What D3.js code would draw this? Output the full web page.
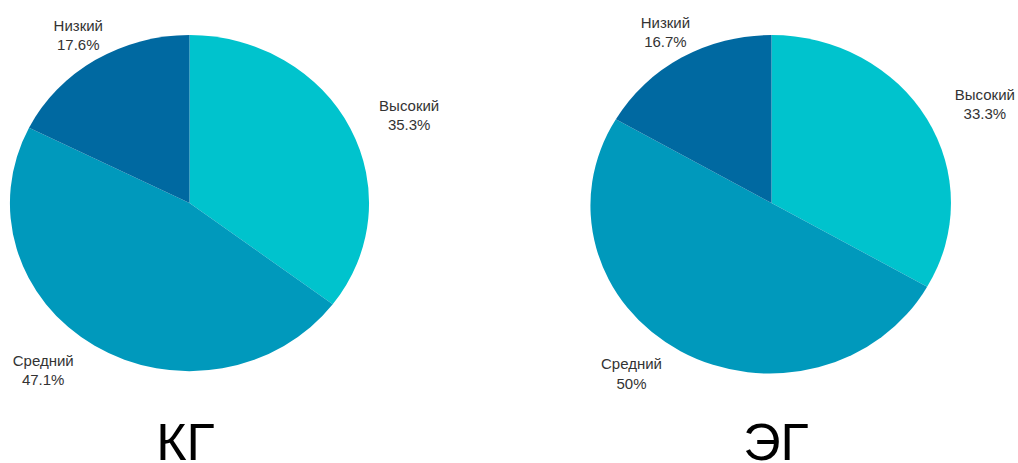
<!DOCTYPE html>
<html>
<head>
<meta charset="utf-8">
<script src="https://cdn.jsdelivr.net/npm/d3@7"></script>
<style>
  html, body { margin: 0; padding: 0; background: #fff; }
  svg { display: block; }
</style>
</head>
<body>
<svg id="chart" width="1018" height="463"></svg>
<script>
// Уровни и их доли (%) по группам
const levels = ["Высокий", "Средний", "Низкий"];
const groups = ["КГ", "ЭГ"];
const valuesKG = [35.3, 47.1, 17.6];
const valuesEG = [33.3, 50, 16.7];
const labelsKG = ["35.3%", "47.1%", "17.6%"];
const labelsEG = ["33.3%", "50%", "16.7%"];
const colors = ["#00C3CD", "#0099BC", "#0069A1"];

const svg = d3.select("#chart");

const color = d3.scaleOrdinal().domain(levels).range(colors);
// horizontal placement of the two pies and their titles
const xPos = d3.scalePoint().domain(groups).range([189.5, 771.5]);
const xTitle = d3.scalePoint().domain(groups).range([185.5, 776]);

const rx = 179.5, ry = 168, cy = 203;
const pie = d3.pie().sort(null).value(d => d.value);
const arc = d3.arc().innerRadius(0).outerRadius(1);
const FONT = "Liberation Sans, Arial, sans-serif";

const series = [
  { name: groups[0], values: valuesKG, labels: labelsKG },
  { name: groups[1], values: valuesEG, labels: labelsEG }
];

series.forEach(s => {
  const cx = xPos(s.name);
  const data = levels.map((l, i) => ({ level: l, value: s.values[i], label: s.labels[i] }));
  const arcs = pie(data);

  // pie drawn on a unit circle and stretched to an ellipse
  const g = svg.append("g")
    .attr("transform", `translate(${cx},${cy}) scale(${rx},${ry})`);
  g.selectAll("path")
    .data(arcs)
    .join("path")
    .attr("d", arc)
    .attr("fill", d => color(d.data.level));

  // outside labels: two centred lines, block anchored by side
  const k = 1.18;
  const lg = svg.append("g");
  arcs.forEach(d => {
    const a = (d.startAngle + d.endAngle) / 2;
    const sx = Math.sin(a), cA = Math.cos(a);
    const side = cA > 0.8 ? 0 : (sx >= 0 ? 1 : -1);
    const px = cx + rx * k * sx + (side < 0 ? -4 : 0);
    const py = cy - ry * k * cA - (side < 0 ? 2 : 0);
    const t = lg.append("text")
      .attr("y", py)
      .attr("text-anchor", "middle")
      .attr("font-family", FONT)
      .attr("font-size", 15)
      .attr("fill", "#333");
    const l1 = t.append("tspan").attr("dy", "-0.25em").text(d.data.level);
    const l2 = t.append("tspan").attr("dy", "1.3em").text(d.data.label);
    const w = Math.max(l1.node().getComputedTextLength(), l2.node().getComputedTextLength());
    const x = px + side * w / 2;
    l1.attr("x", x);
    l2.attr("x", x);
  });

  // group title under the pie
  svg.append("text")
    .attr("x", xTitle(s.name))
    .attr("y", 460)
    .attr("text-anchor", "middle")
    .attr("font-family", FONT)
    .attr("font-size", 52)
    .attr("fill", "#000")
    .text(s.name);
});
</script>
</body>
</html>
